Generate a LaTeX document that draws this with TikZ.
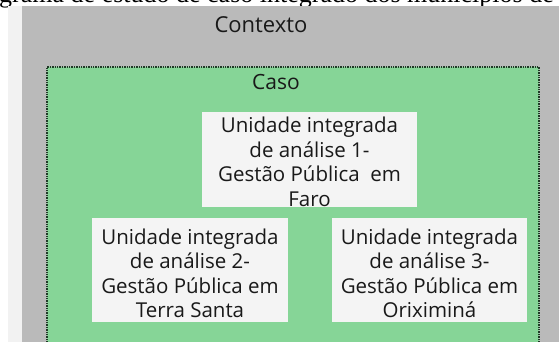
\documentclass[tikz,border=0pt]{standalone}
\usepackage{fontspec}
\setmainfont{Liberation Serif}
\newfontfamily\boxfont{Open Sans}
\usepackage{tikz}

\definecolor{contextgray}{HTML}{BABABA}
\definecolor{casegreen}{HTML}{86D597}
\definecolor{casedots}{HTML}{1F3A26}
\definecolor{unitgray}{HTML}{F4F4F4}
\definecolor{stripgray}{HTML}{F2F2F2}

\begin{document}
\begin{tikzpicture}[x=1pt, y=-1pt,
unit_style/.style={fill=unitgray, inner sep=0pt, align=center, text=black!90,
  font=\boxfont\fontsize{20.5}{24.5}\selectfont},
label_style/.style={anchor=base, inner sep=0pt, text=black!90},
edge_style/.style={draw=casedots, densely dotted, line width=1.4pt}]
\useasboundingbox (0,0) rectangle (559,342);
\clip (0,0) rectangle (559,342);

\node[anchor=base west, inner sep=0pt, font=\fontsize{26}{30}\selectfont] (caption) at (-38.5,3) {Diagrama de estudo de caso integrado dos municípios de};

\fill[stripgray] (8,6) rectangle (22,345);
\fill[contextgray] (22,6) rectangle (562,345);
\node[label_style, font=\boxfont\fontsize{22}{24}\selectfont] (contexto) at (261,33) {Contexto};

\fill[casegreen] (47,67) rectangle (539,345);
\draw[edge_style] (47,345) -- (47,67) -- (539,67) -- (539,345);
\node[label_style, font=\boxfont\fontsize{21}{24}\selectfont] (caso) at (276,90) {Caso};

\node[unit_style, minimum width=215pt, minimum height=95pt] (faro) at (309.5,159.5)
  {\rule{0pt}{20pt}Unidade integrada\\de análise 1-\\Gestão Pública\ \ em\\Faro};
\node[unit_style, minimum width=196pt, minimum height=104pt] (terra_santa) at (190,270)
  {\rule{0pt}{22pt}Unidade integrada\\de análise 2-\\Gestão Pública em\\Terra Santa};
\node[unit_style, minimum width=195pt, minimum height=104pt] (oriximina) at (429.5,270)
  {\rule{0pt}{22pt}Unidade integrada\\de análise 3-\\Gestão Pública em\\Oriximiná};

\end{tikzpicture}
\end{document}
